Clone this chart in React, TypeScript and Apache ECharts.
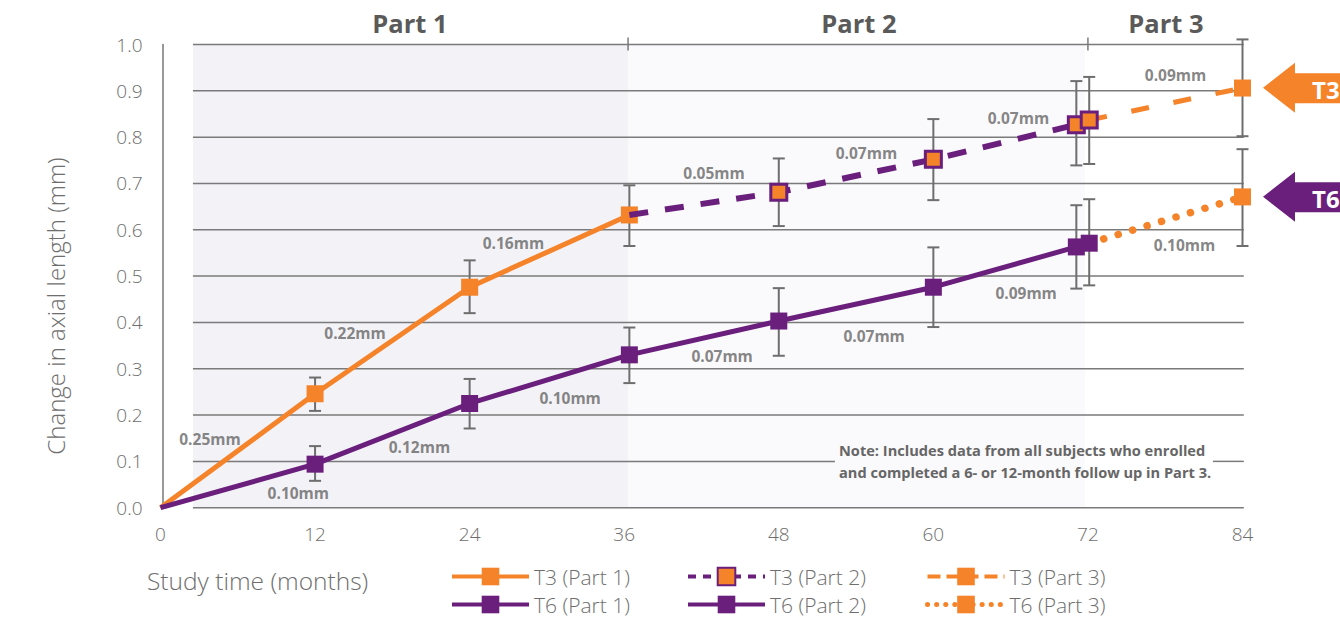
import React, { useEffect, useRef } from 'react';
import * as echarts from 'echarts';

const ORANGE = '#f5832a';
const PURPLE = '#6b1f7d';
const GRAY = '#6e6e6e';
const FONT = "'Open Sans', 'Noto Sans', sans-serif";

// x: study month, y: change in axial length (mm)
const t3Part1 = [[0, 0], [12, 0.246], [24, 0.476], [36.4, 0.632]];
const t3Part2 = [[36.4, 0.632], [48, 0.681], [60, 0.752], [71.1, 0.827], [72.1, 0.837]];
const t3Part3 = [[72.1, 0.837], [84, 0.906]];
const t6Part1 = [[0, 0], [12, 0.094], [24, 0.225], [36.4, 0.33]];
const t6Part2 = [[36.4, 0.33], [48, 0.403], [60, 0.476], [71.1, 0.563], [72.1, 0.571]];
const t6Part3 = [[72.1, 0.571], [84, 0.671]];

// [month, low, high]
const t3Err = [[12, 0.209, 0.281], [24, 0.42, 0.534], [36.4, 0.565, 0.696], [48, 0.608, 0.754], [60, 0.664, 0.839], [71.1, 0.739, 0.921], [72.1, 0.742, 0.93], [84, 0.802, 1.011]];
const t6Err = [[12, 0.058, 0.133], [24, 0.171, 0.278], [36.4, 0.269, 0.389], [48, 0.328, 0.474], [60, 0.39, 0.562], [71.1, 0.473, 0.653], [72.1, 0.48, 0.666], [84, 0.565, 0.774]];

// annotation labels [month, value, text]
const annotations = [
  [3.84, 0.148, '0.25mm'], [15.1, 0.377, '0.22mm'], [27.4, 0.571, '0.16mm'],
  [42.97, 0.723, '0.05mm'], [54.8, 0.766, '0.07mm'], [66.6, 0.841, '0.07mm'], [78.8, 0.934, '0.09mm'],
  [10.7, 0.032, '0.10mm'], [20.1, 0.131, '0.12mm'], [31.8, 0.237, '0.10mm'],
  [43.6, 0.328, '0.07mm'], [55.4, 0.371, '0.07mm'], [67.2, 0.463, '0.09mm'], [79.5, 0.567, '0.10mm'],
];

const yTicks = [0, 0.1, 0.2, 0.3, 0.4, 0.5, 0.6, 0.7, 0.8, 0.9, 1.0];
const gridStart = 2.52;
const gridEnd = 84.1;
const noteGap = [52.36, 81.7];
const partBounds = [2.52, 36.3, 71.78];
const partDividers = [36.3, 72];

const withHiddenFirst = (arr: number[][]) =>
  arr.map((p, i) => (i === 0 ? { value: p, symbol: 'none' } : { value: p }));

export default function App() {
  const ref = useRef<HTMLDivElement>(null);
  useEffect(() => {
    if (!ref.current) return;
    const chart = echarts.init(ref.current, undefined, { renderer: 'svg' });
    const gridStyle = { stroke: '#7a7a7a', lineWidth: 1.5 };

    const errSeries = (name: string, data: number[][]) => ({
      type: 'custom',
      name,
      z: 3,
      clip: false,
      silent: true,
      encode: { x: 0, y: [1, 2] },
      data,
      renderItem: (params: any, api: any) => {
        const x = api.value(0);
        const top = api.coord([x, api.value(2)]);
        const bot = api.coord([x, api.value(1)]);
        const w = 6;
        const st = { stroke: GRAY, lineWidth: 2 };
        return {
          type: 'group',
          children: [
            { type: 'line', shape: { x1: top[0], y1: top[1], x2: bot[0], y2: bot[1] }, style: st },
            { type: 'line', shape: { x1: top[0] - w, y1: top[1], x2: top[0] + w, y2: top[1] }, style: st },
            { type: 'line', shape: { x1: bot[0] - w, y1: bot[1], x2: bot[0] + w, y2: bot[1] }, style: st },
          ],
        };
      },
    });

    const lineSeries = (name: string, data: number[][], color: string, lineStyle: any, itemStyle: any, size: number, z: number) => ({
      type: 'line',
      name,
      data: withHiddenFirst(data),
      symbol: 'rect',
      symbolSize: size,
      clip: false,
      z,
      lineStyle: { color, ...lineStyle },
      itemStyle,
      emphasis: { disabled: true },
    });

    const legendText = { color: GRAY, fontSize: 21, fontFamily: FONT, fontWeight: 300 };
    const legendBase = { orient: 'vertical', top: 566, padding: 0, itemWidth: 77, itemHeight: 22, itemGap: 7, selectedMode: false, textStyle: legendText };

    chart.setOption({
      animation: false,
      backgroundColor: '#ffffff',
      grid: { left: 160.5, top: 44.5, width: 1082, height: 463.2, containLabel: false },
      xAxis: {
        type: 'value', min: 0, max: 84, interval: 12,
        axisLine: { show: false }, axisTick: { show: false }, splitLine: { show: false },
        axisLabel: { color: GRAY, fontSize: 19, fontFamily: FONT, fontWeight: 300, margin: 17 },
      },
      yAxis: {
        type: 'value', min: 0, max: 1, interval: 0.1, offset: -2,
        axisLine: { show: true, lineStyle: { color: '#777777', width: 1.5 } },
        axisTick: { show: false }, splitLine: { show: false },
        axisLabel: { color: GRAY, fontSize: 19, fontFamily: FONT, fontWeight: 300, margin: 20, formatter: (v: number) => v.toFixed(1) },
      },
      legend: [
        { ...legendBase, left: 450, data: [
          { name: 'T3 (Part 1)', lineStyle: { width: 4 } },
          { name: 'T6 (Part 1)', lineStyle: { width: 4 } },
        ] },
        { ...legendBase, left: 686, data: [
          { name: 'T3 (Part 2)', lineStyle: { width: 4, type: [8, 7] } },
          { name: 'T6 (Part 2)', lineStyle: { width: 4 } },
        ] },
        { ...legendBase, left: 925, data: [
          { name: 'T3 (Part 3)', lineStyle: { width: 4, type: [13, 6] } },
          { name: 'T6 (Part 3)', lineStyle: { width: 5, type: [0.1, 9], cap: 'round' } },
        ] },
      ],
      series: [
        {
          type: 'line', name: 'bg', data: [[0, 0]], showSymbol: false, symbol: 'none', silent: true, clip: false, z: 0,
          lineStyle: { opacity: 0 },
          markArea: {
            silent: true,
            data: [
              [{ xAxis: partBounds[0], yAxis: 0, itemStyle: { color: '#f3f2f7' } }, { xAxis: partBounds[1], yAxis: 1 }],
              [{ xAxis: partBounds[1], yAxis: 0, itemStyle: { color: '#faf9fc' } }, { xAxis: partBounds[2], yAxis: 1 }],
            ],
          },
        },
        {
          type: 'custom', name: 'gridlines', z: 1, clip: false, silent: true,
          data: yTicks.map((v) => [gridStart, v]),
          encode: { x: 0, y: 1 },
          renderItem: (params: any, api: any) => {
            const v = api.value(1);
            const segs = Math.abs(v - 0.1) < 1e-9 ? [[gridStart, noteGap[0]], [noteGap[1], gridEnd]] : [[gridStart, gridEnd]];
            return {
              type: 'group',
              children: segs.map(([a, b]) => {
                const p1 = api.coord([a, v]);
                const p2 = api.coord([b, v]);
                return { type: 'line', shape: { x1: p1[0], y1: p1[1], x2: p2[0], y2: p2[1] }, style: gridStyle };
              }),
            };
          },
        },
        {
          type: 'custom', name: 'dividers', z: 1, clip: false, silent: true,
          data: partDividers.map((d) => [d, 1]),
          encode: { x: 0, y: 1 },
          renderItem: (params: any, api: any) => {
            const p = api.coord([api.value(0), api.value(1)]);
            return { type: 'line', shape: { x1: p[0], y1: p[1] - 7, x2: p[0], y2: p[1] + 6 }, style: gridStyle };
          },
        },
        errSeries('t3err', t3Err),
        errSeries('t6err', t6Err),
        lineSeries('T6 (Part 1)', t6Part1, PURPLE, { width: 5 }, { color: PURPLE }, 17, 5),
        lineSeries('T3 (Part 1)', t3Part1, ORANGE, { width: 5 }, { color: ORANGE }, 17, 4),
        lineSeries('T6 (Part 2)', t6Part2, PURPLE, { width: 5 }, { color: PURPLE }, 17, 5),
        lineSeries('T3 (Part 2)', t3Part2, PURPLE, { width: 6, type: [19, 17] }, { color: ORANGE, borderColor: PURPLE, borderWidth: 3 }, 16, 6),
        lineSeries('T3 (Part 3)', t3Part3, ORANGE, { width: 5, type: [18, 25] }, { color: ORANGE }, 17, 4),
        lineSeries('T6 (Part 3)', t6Part3, ORANGE, { width: 7.5, type: [0.1, 15], cap: 'round' }, { color: ORANGE }, 17, 4),
        {
          type: 'scatter', name: 'notes', data: annotations, symbolSize: 0, silent: true, z: 7,
          encode: { x: 0, y: 1 },
          label: {
            show: true, position: 'inside', formatter: (p: any) => p.value[2],
            color: '#666666', fontSize: 15.5, fontWeight: 'bold', fontFamily: FONT,
          },
        },
      ],
      graphic: [
        { type: 'text', z: 10, x: 410, y: 23, style: { text: 'Part 1', align: 'center', verticalAlign: 'middle', fill: '#5a5a5a', fontSize: 25.5, fontWeight: 'bold', fontFamily: FONT } },
        { type: 'text', z: 10, x: 859, y: 23, style: { text: 'Part 2', align: 'center', verticalAlign: 'middle', fill: '#5a5a5a', fontSize: 25.5, fontWeight: 'bold', fontFamily: FONT } },
        { type: 'text', z: 10, x: 1166, y: 23, style: { text: 'Part 3', align: 'center', verticalAlign: 'middle', fill: '#5a5a5a', fontSize: 25.5, fontWeight: 'bold', fontFamily: FONT } },
        { type: 'text', z: 10, x: 55, y: 306, rotation: Math.PI / 2, style: { text: 'Change in axial length (mm)', align: 'center', verticalAlign: 'middle', fill: GRAY, fontSize: 24, fontWeight: 300, fontFamily: FONT } },
        { type: 'text', z: 10, x: 147, y: 580, style: { text: 'Study time (months)', align: 'left', verticalAlign: 'middle', fill: GRAY, fontSize: 24.5, fontWeight: 300, fontFamily: FONT } },
        { type: 'text', z: 10, x: 839, y: 439, style: { text: 'Note: Includes data from all subjects who enrolled\nand completed a 6- or 12-month follow up in Part 3.', align: 'left', verticalAlign: 'top', lineHeight: 22, fill: '#666666', fontSize: 14.6, fontWeight: 'bold', fontFamily: FONT } },
        { type: 'polygon', z: 10, shape: { points: [[1263, 87.7], [1295, 62.7], [1295, 73.3], [1345, 73.3], [1345, 103.3], [1295, 103.3], [1295, 112.7]] }, style: { fill: ORANGE } },
        { type: 'text', z: 11, x: 1312, y: 89, style: { text: 'T3', align: 'left', verticalAlign: 'middle', fill: '#ffffff', fontSize: 24, fontWeight: 'bold', fontFamily: FONT } },
        { type: 'polygon', z: 10, shape: { points: [[1263, 196.7], [1295, 171.7], [1295, 182.3], [1345, 182.3], [1345, 212.3], [1295, 212.3], [1295, 221.7]] }, style: { fill: PURPLE } },
        { type: 'text', z: 11, x: 1312, y: 198, style: { text: 'T6', align: 'left', verticalAlign: 'middle', fill: '#ffffff', fontSize: 24, fontWeight: 'bold', fontFamily: FONT } },
      ],
    });
    return () => chart.dispose();
  }, []);
  return <div ref={ref} style={{ position: 'fixed', left: 0, top: 0, width: 1340, height: 622, background: '#fff' }} />;
}
